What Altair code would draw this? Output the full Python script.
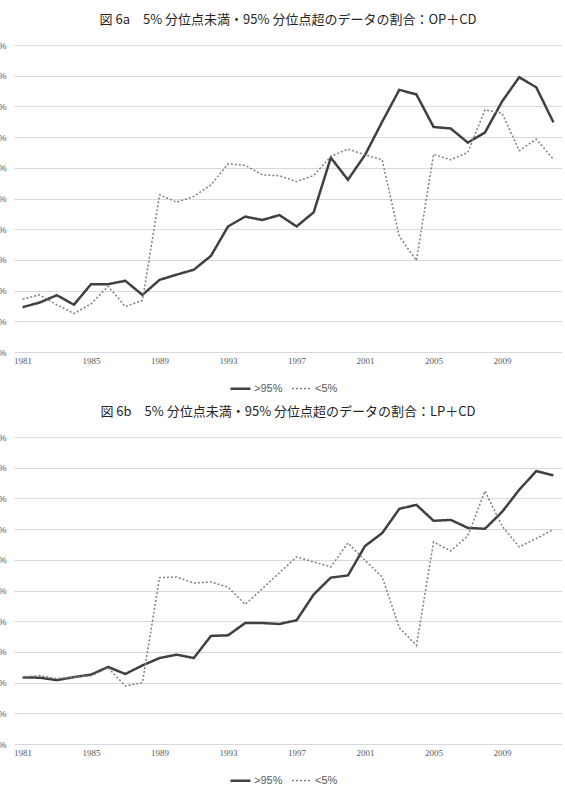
import altair as alt
import pandas as pd

years = list(range(1981, 2013))

# 図 6a: OP+CD
a_gt95 = [1.46, 1.61, 1.85, 1.54, 2.21, 2.21, 2.32, 1.86, 2.35, 2.52, 2.68, 3.13,
          4.09, 4.41, 4.30, 4.46, 4.09, 4.55, 6.33, 5.61, 6.42, 7.50, 8.54, 8.39,
          7.33, 7.28, 6.82, 7.15, 8.16, 8.95, 8.62, 7.48]
a_lt5 = [1.72, 1.86, 1.54, 1.25, 1.57, 2.14, 1.48, 1.68, 5.12, 4.88, 5.07, 5.44,
         6.13, 6.08, 5.77, 5.74, 5.55, 5.75, 6.37, 6.61, 6.42, 6.26, 3.76, 2.98,
         6.44, 6.26, 6.50, 7.89, 7.78, 6.56, 6.93, 6.28]

# 図 6b: LP+CD
b_gt95 = [2.17, 2.16, 2.08, 2.18, 2.26, 2.51, 2.28, 2.56, 2.80, 2.91, 2.80, 3.52,
          3.54, 3.94, 3.94, 3.91, 4.03, 4.87, 5.42, 5.49, 6.45, 6.87, 7.66, 7.79,
          7.27, 7.30, 7.04, 7.01, 7.56, 8.28, 8.89, 8.75]
b_lt5 = [2.18, 2.23, 2.13, 2.18, 2.22, 2.48, 1.89, 2.00, 5.42, 5.44, 5.24, 5.28,
         5.11, 4.55, 5.06, 5.58, 6.09, 5.93, 5.77, 6.55, 5.98, 5.44, 3.79, 3.21,
         6.58, 6.29, 6.78, 8.24, 7.10, 6.42, 6.69, 6.99]

series_names = [">95%", "<5%"]
y_ticks = list(range(0, 11))
x_ticks = list(range(1981, 2012, 4))

title_a = "図 6a　5% 分位点未満・95% 分位点超のデータの割合：OP＋CD"
title_b = "図 6b　5% 分位点未満・95% 分位点超のデータの割合：LP＋CD"


def make_df(gt, lt):
    rows = []
    for y, v in zip(years, gt):
        rows.append({"year": y, "value": v, "series": series_names[0]})
    for y, v in zip(years, lt):
        rows.append({"year": y, "value": v, "series": series_names[1]})
    return pd.DataFrame(rows)


def leg(**kw):
    return alt.Legend(title=None, orient="none", direction="horizontal",
                      legendX=215, legendY=332, **kw)


def panel(df, title):
    return alt.Chart(df).mark_line().encode(
        x=alt.X("year:Q",
                scale=alt.Scale(domain=[1980.5, 2012.5], nice=False, zero=False),
                axis=alt.Axis(values=x_ticks, format="d", title=None, grid=False,
                              domain=False, ticks=False, labelPadding=4,
                              labelFontSize=9, labelColor="#595959",
                              labelFont="Liberation Serif")),
        y=alt.Y("value:Q",
                scale=alt.Scale(domain=[0, 10], nice=False),
                axis=alt.Axis(values=y_ticks, labelExpr="datum.value + '%'",
                              title=None, domain=False, ticks=False,
                              labelPadding=8, labelFontSize=9,
                              labelColor="#595959", gridColor="#d9d9d9",
                              gridWidth=1, labelFont="Liberation Sans")),
        color=alt.Color("series:N",
                        scale=alt.Scale(domain=series_names, range=["#404040", "#7f7f7f"]),
                        legend=leg(symbolType="stroke", symbolSize=400,
                                   labelFontSize=11, labelColor="#595959",
                                   labelFont="Liberation Sans",
                                   columnPadding=6, labelOffset=2)),
        strokeDash=alt.StrokeDash("series:N",
                                  scale=alt.Scale(domain=series_names, range=[[1, 0], [2, 2]]),
                                  legend=leg()),
        strokeWidth=alt.StrokeWidth("series:N",
                                    scale=alt.Scale(domain=series_names, range=[2.5, 1.5]),
                                    legend=leg()),
    ).properties(
        width=548, height=307,
        title=alt.TitleParams(title, fontSize=13, font="Noto Sans CJK JP",
                              fontWeight="normal", color="#262626", offset=14),
    )


chart = alt.vconcat(
    panel(make_df(a_gt95, a_lt5), title_a),
    panel(make_df(b_gt95, b_lt5), title_b),
    spacing=12,
).resolve_legend(
    color="independent", strokeDash="independent", strokeWidth="independent"
).properties(
    padding={"left": -13, "top": 14, "right": 0, "bottom": 10},
    background="white",
).configure_view(stroke=None)

chart.save("out.html", embed_options={"renderer": "svg", "actions": False})
